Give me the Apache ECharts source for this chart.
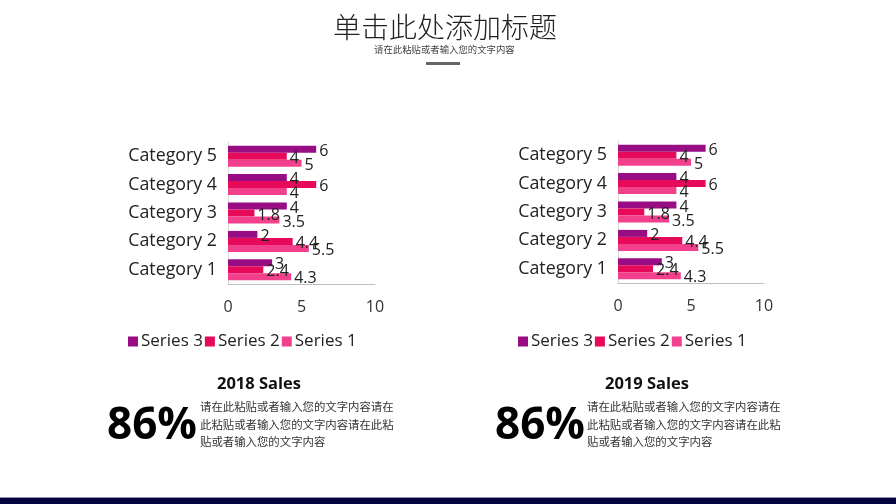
<!DOCTYPE html>
<html>
<head>
<meta charset="utf-8">
<script src="https://cdn.jsdelivr.net/npm/echarts@6/dist/echarts.min.js"></script>
<style>
html,body{margin:0;padding:0;background:#fff;}
#c{width:896px;height:504px;}
</style>
</head>
<body>
<div id="c"></div>
<script>
const categories = ['Category 1', 'Category 2', 'Category 3', 'Category 4', 'Category 5'];
const series1_2018 = [4.3, 5.5, 3.5, 4, 5];
const series2_2018 = [2.4, 4.4, 1.8, 6, 4];
const series3_2018 = [3, 2, 4, 4, 6];
const series1_2019 = [4.3, 5.5, 3.5, 4, 5];
const series2_2019 = [2.4, 4.4, 1.8, 6, 4];
const series3_2019 = [3, 2, 4, 4, 6];
const xTicks = [0, 5, 10];
const seriesNames = ['Series 3', 'Series 2', 'Series 1'];
const colors = {'Series 1': '#f2408c', 'Series 2': '#e80a5a', 'Series 3': '#980c84'};
const paraText = '请在此粘贴或者输入您的文字内容请在\n此粘贴或者输入您的文字内容请在此粘\n贴或者输入您的文字内容';

const chart = echarts.init(document.getElementById('c'));
const latin = '"Open Sans", "Noto Sans", sans-serif';
const cjk = '"Noto Sans CJK SC", sans-serif';

function mkX(idx) {
  return {
    type: 'value', gridIndex: idx, min: xTicks[0], max: xTicks[xTicks.length - 1], interval: xTicks[1] - xTicks[0],
    axisLine: {show: true, lineStyle: {color: '#bfbfbf', width: 1}},
    axisTick: {show: false}, splitLine: {show: false},
    axisLabel: {fontSize: 16, color: '#333', fontFamily: latin, margin: 15}
  };
}
function mkY(idx) {
  return {
    type: 'category', gridIndex: idx, data: categories,
    axisLine: {show: true, lineStyle: {color: '#d9d9d9'}},
    axisTick: {show: false},
    axisLabel: {fontSize: 17.8, color: '#222', fontFamily: latin, margin: 11}
  };
}
function mkS(name, data, idx) {
  return {
    name: name, type: 'bar', xAxisIndex: idx, yAxisIndex: idx, data: data,
    barGap: '0%', barCategoryGap: '26%',
    itemStyle: {color: colors[name]},
    label: {show: true, position: 'right', distance: 3, offset: [0, 2], fontSize: 16, color: '#222', fontFamily: latin}
  };
}
function mkLegend(left) {
  return {
    data: seriesNames, left: left, top: 328, itemWidth: 10, itemHeight: 10, itemGap: 2,
    icon: 'rect', textStyle: {fontSize: 17, color: '#222', fontFamily: latin, padding: [0, 0, 0, -2]}
  };
}
function statBlock(titleX, bigX, textX, title) {
  return [
    {type: 'text', left: titleX, top: 376, style: {text: title, fontSize: 16.5, fontWeight: 'bold', fill: '#111', fontFamily: latin}},
    {type: 'text', left: bigX, top: 404, style: {text: '86%', fontSize: 44, fontWeight: 'bold', fill: '#000', fontFamily: latin}},
    {type: 'text', left: textX, top: 398, style: {text: paraText, fontSize: 11.4, lineHeight: 17.5, fill: '#333', fontFamily: cjk}}
  ];
}

chart.setOption({
  animation: false,
  grid: [
    {left: 228, width: 147, top: 142, height: 142},
    {left: 618, width: 146, top: 141, height: 142}
  ],
  xAxis: [mkX(0), mkX(1)],
  yAxis: [mkY(0), mkY(1)],
  legend: [mkLegend(123), mkLegend(513)],
  series: [
    mkS('Series 3', series3_2018, 0), mkS('Series 2', series2_2018, 0), mkS('Series 1', series1_2018, 0),
    mkS('Series 3', series3_2019, 1), mkS('Series 2', series2_2019, 1), mkS('Series 1', series1_2019, 1)
  ],
  graphic: [
    {type: 'text', left: 333, top: 13, style: {text: '单击此处添加标题', fontSize: 28, fill: '#222', fontFamily: cjk, fontWeight: 300}},
    {type: 'text', left: 374, top: 45, style: {text: '请在此粘贴或者输入您的文字内容', fontSize: 9.4, fill: '#444', fontFamily: cjk}},
    {type: 'rect', shape: {x: 426, y: 62, width: 34, height: 3}, style: {fill: '#666'}},
    {type: 'rect', shape: {x: 0, y: 497, width: 896, height: 1}, style: {fill: '#9090b0'}},
    {type: 'rect', shape: {x: 0, y: 498, width: 896, height: 6}, style: {fill: '#03033f'}}
  ].concat(statBlock(217, 107, 200, '2018 Sales'), statBlock(605, 495, 587, '2019 Sales'))
});
</script>
</body>
</html>
